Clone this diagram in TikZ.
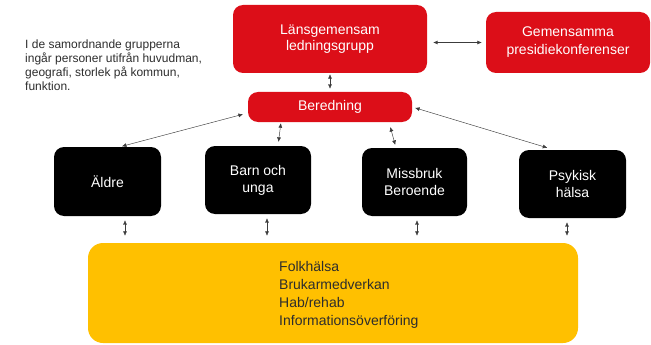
\documentclass[tikz,border=0pt]{standalone}
\usepackage{fontspec}
\setmainfont{Liberation Sans}
\usetikzlibrary{calc}
\usetikzlibrary{arrows.meta}

\definecolor{lanred}{RGB}{220,14,24}
\definecolor{basgul}{RGB}{255,192,0}
\definecolor{pilgra}{RGB}{60,60,60}
\definecolor{textgra}{RGB}{45,45,45}

\tikzset{
  redbox/.style={fill=lanred, rounded corners=10pt, inner sep=0pt, text=white, align=center,
    font=\fontsize{14}{16.5}\selectfont},
  blackbox/.style={fill=black, rounded corners=10pt, inner sep=0pt, text=white, align=center,
    minimum width=106pt, minimum height=68pt, font=\fontsize{14}{17}\selectfont},
  conn/.style={draw=pilgra, line width=0.45pt, <->, >={Latex[length=4.5pt,width=4pt]}, shorten <=3pt, shorten >=3pt},
}

\begin{document}
\begin{tikzpicture}[x=1pt, y=-1pt]
\useasboundingbox (0,0) rectangle (651,345);

% top row
\node[redbox, minimum width=194pt, minimum height=68pt] (lans) at (330,39) {Länsgemensam\\ledningsgrupp};
\node[redbox, minimum width=164pt, minimum height=61pt, font=\fontsize{14}{18}\selectfont] (pres) at (568,42.5) {Gemensamma\\presidiekonferenser};
\node[redbox, minimum width=164pt, minimum height=30pt] (bered) at (330,107) {Beredning};

\node[anchor=north west, inner sep=0pt, align=left, text=textgra, font=\fontsize{12}{14}\selectfont] (info) at (25,39.6)
  {I de samordnande grupperna\\ingår personer utifrån huvudman,\\geografi, storlek på kommun,\\funktion.};

% groups
\node[blackbox, minimum width=107pt, minimum height=69pt] (aldre) at (107.5,181.5) {Äldre};
\node[blackbox] (barn) at (258,180) {Barn och\\unga};
\node[blackbox, minimum width=105pt] (miss) at (414.5,182) {Missbruk\\Beroende};
\node[blackbox, minimum width=107pt] (psyk) at (572.5,184) {Psykisk\\hälsa};

% common base
\node[fill=basgul, rounded corners=15pt, minimum width=490pt, minimum height=100pt, inner sep=0pt] (bas) at (333,293) {};
\node[anchor=west, inner sep=0pt, align=left, text=textgra, font=\fontsize{14}{17.8}\selectfont] (bastext) at (279,294.7)
  {Folkhälsa\\Brukarmedverkan\\Hab/rehab\\Informationsöverföring};

% connectors
\draw[conn, shorten <=6pt, shorten >=4pt] (lans.east |- pres.west) -- (pres.west);
\draw[conn, shorten <=1pt] (lans.south) -- (bered.north);
\draw[conn, shorten <=5pt, shorten >=2pt] ([yshift=-6pt]bered.west) -- ([xshift=12.5pt]aldre.north);
\draw[conn, shorten <=1pt, shorten >=4pt] ([xshift=-49pt]bered.south) -- ([xshift=20pt]barn.north);
\draw[conn, shorten <=5pt, shorten >=3pt] ([xshift=59pt]bered.south) -- ([xshift=-18.5pt]miss.north);
\draw[conn, shorten <=3pt, shorten >=7pt] (bered.east) -- ([xshift=-18.5pt]psyk.north);
\foreach \grp/\dx in {aldre/17.5, barn/9, miss/2.5, psyk/-5.5}
  \draw[conn, shorten <=4pt, shorten >=7pt] ([xshift=\dx pt]\grp.south) -- ([xshift=\dx pt]\grp.south |- bas.north);
\end{tikzpicture}
\end{document}
